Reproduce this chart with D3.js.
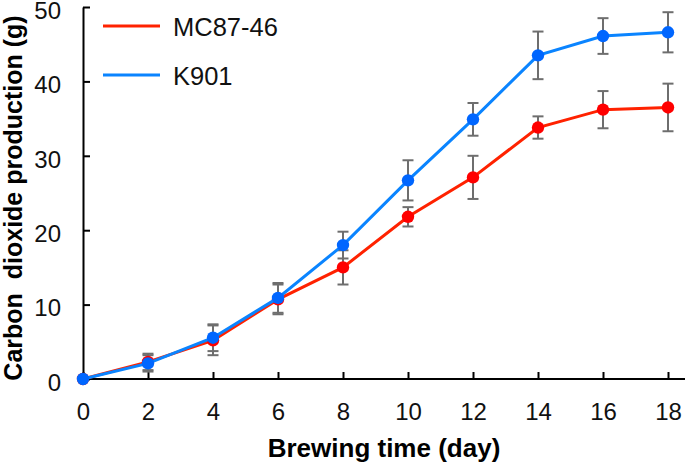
<!DOCTYPE html>
<html><head><meta charset="utf-8">
<script src="https://cdn.jsdelivr.net/npm/d3@7"></script>
<style>body{margin:0;background:#fff}svg{display:block}text{font-family:"Liberation Sans",Arial,sans-serif}</style>
</head><body><svg id="c" width="685" height="465"></svg>
<script>
const days = [0,2,4,6,8,10,12,14,16,18];
const mc8746 = [0,2.3,5.2,10.7,15.0,21.8,27.1,33.8,36.2,36.5];
const mc8746Err = [0,1.1,2.0,2.0,2.3,1.3,2.9,1.5,2.5,3.2];
const k901 = [0,2.1,5.55,10.9,18.0,26.7,34.9,43.5,46.1,46.6];
const k901Err = [0,1.1,1.8,2.0,1.8,2.7,2.2,3.2,2.4,2.7];
const xTicks = [0,2,4,6,8,10,12,14,16,18];
const yTicks = [0,10,20,30,40,50];

const svg = d3.select("#c");
const x = d3.scaleLinear().domain([0,18]).range([83,668]);
const y = d3.scaleLinear().domain([0,50]).range([379,7]);

// axes
const xa = svg.append("g").attr("transform","translate(0,379)")
  .call(d3.axisBottom(x).tickValues(xTicks).tickSizeInner(-7).tickSizeOuter(0).tickPadding(24));
xa.select(".domain").attr("d","M83,0H685");
const ya = svg.append("g").attr("transform","translate(83,0)")
  .call(d3.axisLeft(y).tickValues(yTicks).tickSizeInner(-7).tickSizeOuter(0).tickPadding(22));
[xa,ya].forEach(a=>{
  a.selectAll(".domain").attr("stroke","#000").attr("stroke-width",2);
  a.selectAll(".tick line").attr("stroke","#000").attr("stroke-width",2);
  a.selectAll(".tick text").attr("font-size",24).attr("fill","#111");
});
ya.selectAll(".tick text").attr("dy","0.47em");

const series = [
  {vals:k901, err:k901Err, line:"#0a84ff", dot:"#0066ff"},
  {vals:mc8746, err:mc8746Err, line:"#ff2200", dot:"#ff0000"}
];
const order = [series[1], series[0]];
// error bars
order.forEach(s=>{
  const g = svg.append("g").attr("stroke","#6e6e6e").attr("stroke-width",2);
  days.forEach((d,i)=>{
    if(!s.err[i]) return;
    const cx=x(d), y1=y(s.vals[i]-s.err[i]), y2=y(s.vals[i]+s.err[i]);
    g.append("line").attr("x1",cx).attr("x2",cx).attr("y1",y1).attr("y2",y2);
    g.append("line").attr("x1",cx-5.5).attr("x2",cx+5.5).attr("y1",y1).attr("y2",y1);
    g.append("line").attr("x1",cx-5.5).attr("x2",cx+5.5).attr("y1",y2).attr("y2",y2);
  });
});
const line = d3.line().x((d,i)=>x(days[i])).y(d=>y(d));
order.forEach(s=>{
  svg.append("path").datum(s.vals).attr("d",line).attr("fill","none")
    .attr("stroke",s.line).attr("stroke-width",3);
  svg.append("g").selectAll("circle").data(s.vals).join("circle")
    .attr("cx",(d,i)=>x(days[i])).attr("cy",d=>y(d)).attr("r",6.2).attr("fill",s.dot);
});

// legend
const legend = [{name:"MC87-46", c:"#ff2200"},{name:"K901", c:"#0a84ff"}];
legend.forEach((l,i)=>{
  const yy = 26 + i*49;
  svg.append("line").attr("x1",103).attr("x2",160).attr("y1",yy).attr("y2",yy)
    .attr("stroke",l.c).attr("stroke-width",3);
  svg.append("text").attr("x",173).attr("y",yy+10).attr("font-size",25.5).attr("fill","#111").text(l.name);
});

// titles
svg.append("text").attr("x",384).attr("y",457).attr("text-anchor","middle")
  .attr("font-size",26).attr("font-weight","bold").text("Brewing time (day)");
svg.append("text").attr("transform","translate(22,198) rotate(-90)").attr("text-anchor","middle")
  .attr("font-size",25).attr("font-weight","bold").style("white-space","pre")
  .text("Carbon  dioxide production (g)");
</script></body></html>
